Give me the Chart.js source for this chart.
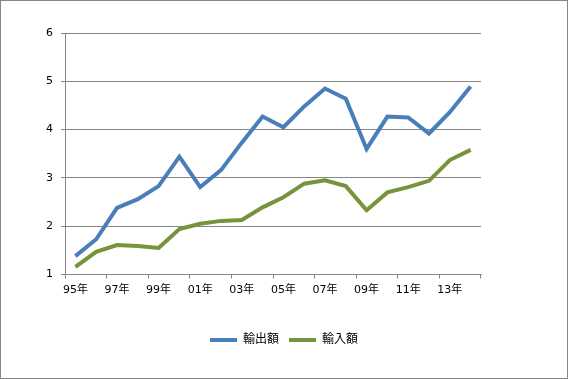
<!DOCTYPE html>
<html>
<head>
<meta charset="utf-8">
<script src="https://cdn.jsdelivr.net/npm/chart.js@4/dist/chart.umd.min.js"></script>
<style>
  html, body { margin: 0; padding: 0; background: #fff; }
  #wrap { width: 566px; height: 377px; border: 1px solid #868686; position: relative; }
</style>
</head>
<body>
<div id="wrap"><canvas id="chart" width="566" height="377"></canvas></div>
<script>
// 年（95年〜14年）
const years = ['95年', '96年', '97年', '98年', '99年', '00年', '01年', '02年', '03年', '04年',
               '05年', '06年', '07年', '08年', '09年', '10年', '11年', '12年', '13年', '14年'];

// 輸出額
const exportValues = [1.38, 1.73, 2.38, 2.56, 2.83, 3.44, 2.81, 3.16, 3.73, 4.27,
                      4.05, 4.48, 4.85, 4.64, 3.60, 4.27, 4.25, 3.92, 4.36, 4.89];

// 輸入額
const importValues = [1.16, 1.47, 1.61, 1.59, 1.55, 1.94, 2.05, 2.11, 2.13, 2.39,
                      2.60, 2.88, 2.95, 2.83, 2.33, 2.70, 2.81, 2.94, 3.37, 3.58];

const yTicks = [1, 2, 3, 4, 5, 6];

const FONT = '"DejaVu Sans", "Noto Sans CJK JP", sans-serif';
const GRID = '#868686';

const ctx = document.getElementById('chart').getContext('2d');
new Chart(ctx, {
    type: 'line',
    data: {
        labels: years,
        datasets: [{
            label: '輸出額',
            data: exportValues,
            borderColor: '#4A7EBB',
            backgroundColor: '#4A7EBB',
            borderWidth: 4,
            pointRadius: 0,
            tension: 0
        }, {
            label: '輸入額',
            data: importValues,
            borderColor: '#77933C',
            backgroundColor: '#77933C',
            borderWidth: 4,
            pointRadius: 0,
            tension: 0
        }]
    },
    options: {
        responsive: false,
        animation: false,
        layout: {
            padding: { left: 0, right: 0, top: 32, bottom: 22 }
        },
        plugins: {
            tooltip: { enabled: false },
            legend: {
                position: 'bottom',
                labels: {
                    usePointStyle: true,
                    pointStyle: 'line',
                    pointStyleWidth: 27,
                    color: '#000',
                    padding: 10,
                    font: { family: FONT, size: 12 }
                }
            }
        },
        scales: {
            x: {
                offset: true,
                grid: {
                    offset: true,
                    drawOnChartArea: false,
                    drawTicks: true,
                    tickLength: 4,
                    color: c => (c.index === undefined || c.index % 2 === 0) ? GRID : 'rgba(0,0,0,0)'
                },
                border: { display: true, color: GRID, width: 1 },
                ticks: {
                    autoSkip: false,
                    maxRotation: 0,
                    padding: 5,
                    color: '#000',
                    font: { family: FONT, size: 11 },
                    callback: function(value, index) {
                        return index % 2 === 0 ? this.getLabelForValue(value) : '';
                    }
                },
                afterFit: scale => { scale.height = 49.5; }
            },
            y: {
                min: 1,
                max: 6,
                afterBuildTicks: scale => { scale.ticks = yTicks.map(v => ({ value: v })); },
                grid: {
                    color: GRID,
                    drawTicks: true,
                    tickLength: 4
                },
                border: { display: true, color: GRID, width: 1 },
                ticks: {
                    padding: 8,
                    color: '#000',
                    font: { family: FONT, size: 11 }
                },
                afterFit: scale => { scale.width = 64; }
            },
            // 右側の余白用（表示なし）
            yRight: {
                position: 'right',
                min: 1,
                max: 6,
                grid: { display: false, drawTicks: false },
                border: { display: false },
                ticks: { display: false },
                afterFit: scale => { scale.width = 86; }
            }
        }
    }
});
</script>
</body>
</html>
